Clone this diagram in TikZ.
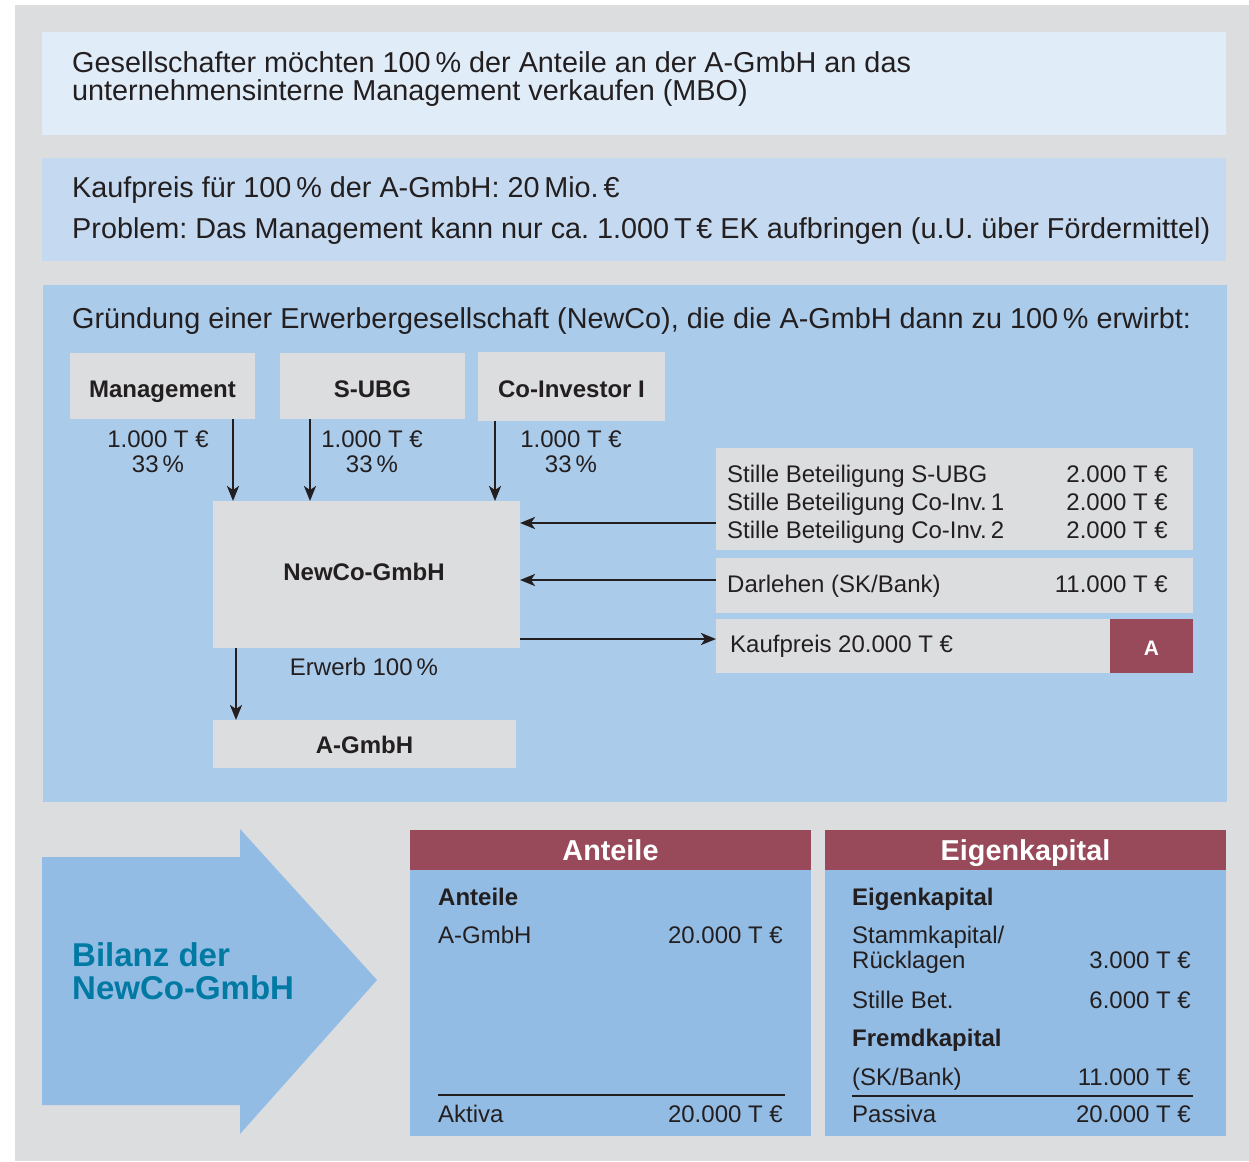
\documentclass[tikz,border=0pt]{standalone}
\usepackage{fontspec}
\setmainfont{Liberation Sans}
\usetikzlibrary{arrows.meta}
\frenchspacing
\definecolor{bgc}{RGB}{220,221,223}
\definecolor{boxa}{RGB}{224,236,248}
\definecolor{boxb}{RGB}{197,218,241}
\definecolor{boxc}{RGB}{171,203,234}
\definecolor{boxd}{RGB}{147,188,228}
\definecolor{maroonc}{RGB}{152,73,90}
\definecolor{bilanzc}{RGB}{0,121,163}
\definecolor{ink}{RGB}{35,31,32}
\begin{document}
\begin{tikzpicture}[x=1pt,y=-1pt,
  box/.style={anchor=north west, inner sep=0pt, outer sep=0pt, draw=none},
  gbox/.style={box, fill=bgc},
  big/.style={inner sep=0pt, text=ink, font=\fontsize{28.8}{31}\selectfont, anchor=base west},
  sm/.style={inner sep=0pt, text=ink, font=\fontsize{24}{27}\selectfont},
  smb/.style={inner sep=0pt, text=ink, font=\fontsize{24}{27}\selectfont\bfseries},
  lbl/.style={text=ink, font=\fontsize{24}{27}\selectfont\bfseries, text depth=0pt},
  arr/.style={draw=ink, line width=2.3pt, -{Stealth[length=15pt,width=12pt,inset=4pt]}},
  rule/.style={draw=ink, line width=2.6pt},
  head/.style={box, fill=maroonc, minimum width=401, minimum height=40, text=white, font=\fontsize{28.8}{30}\selectfont\bfseries, text height=20pt, text depth=0pt}
]
\useasboundingbox (0,0) rectangle (1249,1161);
\fill[bgc] (15,5) rectangle (1249,1161);

% top panels
\node[box, fill=boxa, minimum width=1184, minimum height=103] (p1) at (42,32) {};
\node[box, fill=boxb, minimum width=1184, minimum height=103] (p2) at (42,158) {};
\node[box, fill=boxc, minimum width=1184, minimum height=517] (p3) at (43,285) {};

\node[big] (t1a) at (72,73) {Gesellschafter möchten 100\,\% der Anteile an der A-GmbH an das};
\node[big] (t1b) at (72,101) {unternehmensinterne Management verkaufen (MBO)};
\node[big] (t2a) at (72,197) {Kaufpreis für 100\,\% der A-GmbH: 20\,Mio.\,€};
\node[big] (t2b) at (72,238) {Problem: Das Management kann nur ca. 1.000\,T\,€ EK aufbringen (u.U. über Fördermittel)};
\node[big] (t3) at (72,328) {Gründung einer Erwerbergesellschaft (NewCo), die die A-GmbH dann zu 100\,\% erwirbt:};

% investor boxes
\node[gbox, lbl, minimum width=185, minimum height=66, text height=22pt] (mgmt) at (70,353) {Management};
\node[gbox, lbl, minimum width=185, minimum height=66, text height=22pt] (subg) at (280,353) {S-UBG};
\node[gbox, lbl, minimum width=187, minimum height=69, text height=21pt] (coinv) at (478,352) {Co-Investor I};

\node[sm, anchor=base] (m1) at (158,447) {1.000 T €};
\node[sm, anchor=base] (m2) at (158,472) {33\,\%};
\node[sm, anchor=base] (s1) at (372,447) {1.000 T €};
\node[sm, anchor=base] (s2) at (372,472) {33\,\%};
\node[sm, anchor=base] (c1) at (571,447) {1.000 T €};
\node[sm, anchor=base] (c2) at (571,472) {33\,\%};

% NewCo
\node[gbox, minimum width=307, minimum height=147] (newco) at (213,501) {};
\node[smb, anchor=base] (newcot) at (364,580) {NewCo-GmbH};
\node[gbox, lbl, minimum width=303, minimum height=48, text height=18pt] (agmbh) at (213,720) {A-GmbH};
\node[sm, anchor=base] (erwerb) at (364,675) {Erwerb 100\,\%};

% right side boxes
\node[gbox, minimum width=477, minimum height=102] (stille) at (716,448) {};
\node[gbox, minimum width=477, minimum height=55] (darl) at (716,558) {};
\node[gbox, minimum width=394, minimum height=54] (kauf) at (716,619) {};
\node[box, fill=maroonc, minimum width=83, minimum height=54, text=white, font=\fontsize{21}{24}\selectfont\bfseries, text height=18pt, text depth=0pt] (abox) at (1110,619) {A};

\node[sm, anchor=base west] (st1) at (727,482) {Stille Beteiligung S-UBG};
\node[sm, anchor=base west] (st2) at (727,510) {Stille Beteiligung Co-Inv.\,1};
\node[sm, anchor=base west] (st3) at (727,538) {Stille Beteiligung Co-Inv.\,2};
\node[sm, anchor=base east] (sv1) at (1168,482) {2.000 T €};
\node[sm, anchor=base east] (sv2) at (1168,510) {2.000 T €};
\node[sm, anchor=base east] (sv3) at (1168,538) {2.000 T €};
\node[sm, anchor=base west] (dl) at (727,592) {Darlehen (SK/Bank)};
\node[sm, anchor=base east] (dv) at (1168,592) {11.000 T €};
\node[sm, anchor=base west] (kl) at (730,652) {Kaufpreis 20.000 T €};

% arrow helper coordinates
\coordinate (xm) at (233,0);
\coordinate (xs) at (310,0);
\coordinate (xc) at (495,0);
\coordinate (xa) at (236,0);
\coordinate (ys) at (0,523);
\coordinate (yd) at (0,580);
\coordinate (yk) at (0,639);

\draw[arr] (mgmt.south -| xm) -- (newco.north -| xm);
\draw[arr] (subg.south -| xs) -- (newco.north -| xs);
\draw[arr] (coinv.south -| xc) -- (newco.north -| xc);
\draw[arr] (stille.west |- ys) -- (newco.east |- ys);
\draw[arr] (darl.west |- yd) -- (newco.east |- yd);
\draw[arr] (newco.east |- yk) -- (kauf.west |- yk);
\draw[arr] (newco.south -| xa) -- (agmbh.north -| xa);

% big arrow
\fill[boxd] (42,857) -- (240,857) -- (240,829) -- (377,980) -- (240,1134) -- (240,1105) -- (42,1105) -- cycle;
\node[inner sep=0pt, anchor=base west, text=bilanzc, font=\fontsize{33}{34}\selectfont\bfseries] (bil1) at (72,966) {Bilanz der};
\node[inner sep=0pt, anchor=base west, text=bilanzc, font=\fontsize{33}{34}\selectfont\bfseries] (bil2) at (72,999) {NewCo-GmbH};

% tables
\node[head] (hA) at (410,830) {Anteile};
\node[box, fill=boxd, minimum width=401, minimum height=266] (bA) at (410,870) {};
\node[head] (hE) at (825,830) {Eigenkapital};
\node[box, fill=boxd, minimum width=401, minimum height=266] (bE) at (825,870) {};

\node[smb, anchor=base west] (a1) at (438,905) {Anteile};
\node[sm, anchor=base west] (a2) at (438,943) {A-GmbH};
\node[sm, anchor=base east] (a2v) at (783,943) {20.000 T €};
\draw[rule] (438,1095) -- (785,1095);
\node[sm, anchor=base west] (a3) at (438,1122) {Aktiva};
\node[sm, anchor=base east] (a3v) at (783,1122) {20.000 T €};

\node[smb, anchor=base west] (e1) at (852,905) {Eigenkapital};
\node[sm, anchor=base west] (e2) at (852,943) {Stammkapital/};
\node[sm, anchor=base west] (e3) at (852,968) {Rücklagen};
\node[sm, anchor=base east] (e3v) at (1191,968) {3.000 T €};
\node[sm, anchor=base west] (e4) at (852,1008) {Stille Bet.};
\node[sm, anchor=base east] (e4v) at (1191,1008) {6.000 T €};
\node[smb, anchor=base west] (e5) at (852,1046) {Fremdkapital};
\node[sm, anchor=base west] (e6) at (852,1085) {(SK/Bank)};
\node[sm, anchor=base east] (e6v) at (1191,1085) {11.000 T €};
\draw[rule] (852,1096) -- (1193,1096);
\node[sm, anchor=base west] (e7) at (852,1122) {Passiva};
\node[sm, anchor=base east] (e7v) at (1191,1122) {20.000 T €};
\end{tikzpicture}
\end{document}
